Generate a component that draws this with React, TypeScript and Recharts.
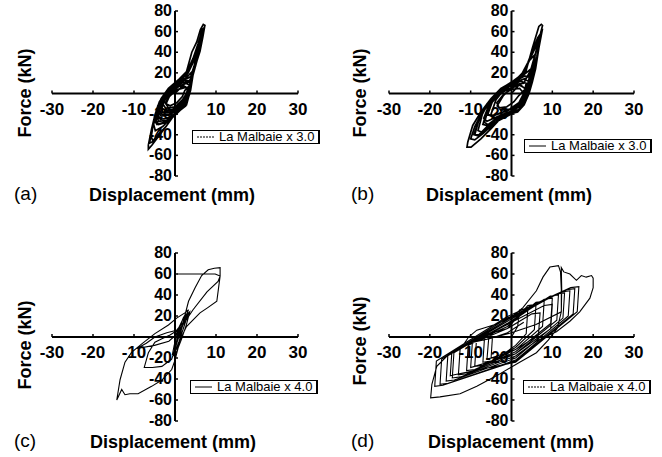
import React from "react";
import { LineChart, Line, XAxis, YAxis, ReferenceLine, Legend } from "recharts";

const xTicks = [-30, -20, -10, 10, 20, 30];
const yTicks = [-80, -60, -40, -20, 20, 40, 60, 80];
const panelLetters = ["(a)", "(b)", "(c)", "(d)"];
const seriesNames = ["La Malbaie x 3.0", "La Malbaie x 3.0", "La Malbaie x 4.0", "La Malbaie x 4.0"];
const xTitle = "Displacement (mm)";
const yTitle = "Force (kN)";

// displacement (mm), force (kN) pairs, one flat list per continuous trace
const loopsA = [
  [
    0, 0, 2, 8, 3.2, 4, 2, 8, 0, 6, -2, -2, -3, -10, -2, -16, 0, -15, 2, -8, 3.2, 4,
    3.8, 12, 2.4, 13, 0, 9, -2.2, 0, -3.4, -8, -3.8, -16, -3.2, -20, -1, -20, 1, -14, 2.8, -6, 3.8, 12,
    4.4, 22, 3.4, 18, 2, 16, 0, 10, -2, 1, -3.6, -9, -4.4, -22, -4, -27, -2, -26, 0, -20, 2, -12, 3.4, -2, 4, 10, 4.4, 22,
    5.2, 36, 4.4, 30, 3.2, 20, 1, 12, -1.6, 3, -3.6, -8, -4.6, -19, -5.2, -30, -4.8, -36, -3, -32, -1, -24,
    1, -17, 2.8, -10, 3.8, 3, 4.4, 18, 5.2, 36,
    6.2, 52, 5.2, 42, 4, 30, 2.8, 21, 0.4, 11, -2, 2, -3.8, -8, -5, -22, -5.8, -42, -5.4, -46, -4, -40,
    -2, -31, -0.4, -22, 1.2, -16, 2.8, -11, 3.7, 2, 4.5, 21, 5.4, 36, 6.2, 52,
    7.3, 66, 6.9, 67, 6.2, 62, 5.3, 50, 4.1, 40, 2.8, 21, 0.4, 11.4, -2, 1.6, -3.7, -8, -4.9, -21, -5.7, -34,
    -6.5, -50, -6.5, -54, -5.6, -50, -4.5, -44, -2, -31, -0.4, -21, 1.2, -15, 2.8, -11, 3.7, 2, 4.5, 21,
    6.1, 41, 6.8, 55, 7.2, 64, 6.6, 62, 6.2, 56, 6.6, 54, 7, 62,
    6.5, 60, 5.6, 48, 4.4, 34, 3, 22, 1, 14, -1.6, 5, -3.4, -5, -4.6, -18, -5.5, -32, -6.2, -48, -5.6, -47,
    -4.2, -40, -2.2, -32, -0.6, -23, 1, -17, 2.6, -12, 3.6, 0, 4.4, 18, 5.8, 38, 6.6, 52, 7, 62,
    5.6, 44, 4.6, 32, 3.4, 22, 1.4, 14, -0.8, 7, -2.8, -2, -4.2, -12, -5, -26, -4.4, -30, -2.6, -28,
    -0.8, -22, 1, -16, 2.6, -9, 3.6, 4, 4.6, 26,
    3.8, 16, 2.6, 14, 0.6, 9, -1.6, 1, -3.2, -8, -4, -18, -3.4, -22, -1.6, -21, 0.4, -16, 2.2, -8, 3.4, 4, 3.8, 12,
    2.8, 10, 1, 7, -1, 1, -2.6, -7, -3.2, -14, -2.2, -17, -0.4, -15, 1.4, -9, 2.8, 0, 3.2, 6,
    2, 6, 0.2, 3, -1.4, -3, -2.2, -10, -1.2, -12, 0.4, -9, 1.8, -3, 2.4, 3,
    3.6, 8, 2.2, 11, 0.2, 8, -1.8, 0, -3.4, -10, -4.2, -20, -3.6, -25, -1.8, -24, 0.2, -19, 2, -12, 3.2, -3, 3.8, 8,
    4, 16, 3, 16, 1.2, 12, -1, 4, -2.8, -5, -3.8, -14, -4.6, -26, -4, -30, -2.2, -28, -0.2, -22, 1.6, -15,
    3, -7, 3.8, 5, 4.2, 16, 3.4, 12, 1.6, 10, -0.4, 5, -2.4, -3, -3.4, -12, -3, -18, -1.2, -18, 0.8, -13,
    2.4, -6, 3.4, 2, 2.6, 6, 0.8, 4, -1, -1, -2.4, -9, -1.6, -14, 0, -13, 1.6, -7, 2.8, -1,
  ],
];

const loopsB = [
  [
    0, 0, 2, 9, 3.5, 4, 2, 9, 0, 6, -2, -2, -3.5, -12, -2.6, -16, 0, -15, 2, -9, 3.5, 4,
    4.2, 12, 3, 14, 0.6, 10, -2, 3, -3.8, -6, -5, -20, -4, -24, -1.6, -20, 0.6, -16, 2.6, -10, 3.6, 0, 4.2, 12,
    4.8, 24, 3.6, 20, 1.6, 14, -1, 7, -3.6, -1, -5.4, -11, -6.6, -28, -5.4, -31, -3, -26, -0.6, -21,
    1.4, -17, 3, -10, 4.1, 0, 4.6, 12, 4.8, 24,
    5.8, 38, 4.4, 32, 3, 20, 0.6, 12, -2.6, 5, -5, -5, -7, -18, -8.2, -36, -7, -38, -4.6, -31, -2.2, -23,
    0, -19, 1.6, -17, 3.2, -10, 4.3, 1, 5, 14, 5.8, 38,
    7.6, 66, 7.3, 67, 6.7, 65, 5.1, 44, 3.5, 21, 0.6, 11, -2.6, 5, -5, -5, -7.5, -18, -9.5, -31, -10.7, -47,
    -10.9, -52, -9.9, -52, -7.5, -44, -5, -34, -2.6, -24, -0.2, -19.5, 1.5, -18, 3.1, -11, 4.3, 0, 5.1, 11,
    5.9, 24, 6.7, 44, 7.6, 63,
    7.1, 58, 6.4, 54, 5.4, 44, 4, 30, 2.4, 18, 0, 11, -2.8, 4, -5.2, -6, -7.4, -20, -9, -32, -10, -44,
    -9, -45, -7, -39, -4.8, -31, -2.4, -23, 0, -19, 2, -15, 3.4, -7, 4.4, 4, 5.2, 16, 6.2, 36, 7.1, 58,
    6, 46, 4.6, 34, 3.2, 22, 1.2, 14, -1.6, 7, -4.4, -3, -6.6, -16, -8.2, -28, -9.2, -40, -8.2, -41,
    -6.2, -34, -4, -26, -1.8, -21, 0.4, -17, 2.4, -11, 3.8, 0, 4.8, 14, 5.4, 28,
    3, 10, 0, 8, -3, 2, -6, -10, -8, -26, -9, -40, -8, -40, -6, -32, -4, -25, -1.6, -20, 1, -15, 3, -6,
    3.8, 4, 2, 8, -1, 4, -4, -4, -6, -16, -7, -30, -6, -31, -4, -25, -2, -21, 0.4, -16, 2.4, -8, 3.2, 2,
    3.6, 10, 2.2, 12, 0, 8, -2.6, 2, -4.6, -7, -5.8, -20, -4.8, -22, -2.6, -19, -0.4, -15, 1.8, -9, 3, 0,
    2, 5, 0, 4, -2, -1, -3.6, -9, -3, -14, -1.2, -13, 0.6, -8, 1.8, -2,
    3.8, 6, 4.4, 16, 3.2, 17, 1, 12, -1.8, 5, -4.2, -4, -5.8, -14, -6.8, -24, -6, -27, -3.8, -23, -1.4, -19,
    0.8, -16, 2.8, -9, 4, 2, 4.6, 18, 3.6, 15, 1.8, 12, -0.8, 6, -3.2, -1, -5, -10, -6, -20, -5, -22,
    -2.8, -19, -0.6, -16, 1.6, -12, 3.2, -4, 4, 8,
  ],
];

const loopsC = [
  [
    0, 0, 0.8, 8, 1.8, 16, 2.6, 22, 2, 18, 0.8, 6, -0.2, -8, -0.6, -16, 0, -14, 1, -4, 2.2, 10, 3.2, 22,
    2.6, 20, 1.4, 8, 0.2, -6, -0.4, -18, 0.4, -14, 1.6, -2, 2.8, 12, 3.6, 24, 3, 22, 1.8, 10, 0.6, -4,
    -0.2, -14, -0.8, -21, -3.2, -28, -5.5, -29, -7.5, -29, -7, -22, -6.5, -15, -4.9, -5, -3.2, -1.6,
    -1.2, 2, 0.4, 6, 1.6, 10, 0.8, 4, -1.5, -4, -5, -8, -9.3, -11, -7, -6, -4.9, 0, -2, 4, 0.4, 6.5,
    2, 14, 3.3, 26, 2.4, 23, 0.4, 18, -1.6, 11.4, -4.9, 3.2, -8.1, -6.5, -10.6, -14.6, -12.2, -24,
    -13.4, -40.7, -14.2, -60, -13, -50, -12.2, -55, -11, -54, -9, -54, -5.7, -47, -3.2, -41, -0.8, -31,
    0, -22, 0.8, -10, 1.7, 10, 3.3, 34, 4.9, 47, 6.5, 58.5, 8.1, 64, 9.6, 65.5, 11, 66, 11, 58, 10.2, 34,
    8, 28, 6.1, 23, 2.8, 10, 1.2, -3, 0.4, -12,
  ],
  [0.5, 0, 1.7, 10, 4.4, 26, 7.8, 43, 10.5, 53, 11, 58, 9.8, 60, 0.6, 60],
];

const loopsD = [
  [
    0, 0, 1.5, 10, 2, 26, 4, 27, 3.6, 3, 1, -8, -3, -19, -5, -20, -4.6, 4, -1, 8,
    4, 30, 6, 31, 5.6, 7, 1, -10, -5, -23, -7, -24, -6.6, 0, -1, 10,
    6, 33, 8, 34, 7.6, 10, 1, -12, -7, -27, -9, -28, -8.6, -4, -1, 12,
    8, 36, 10, 37, 9.6, 13, 1, -14, -9, -31, -11, -32, -10.6, -8, -1, 13,
    9.5, 39, 11.5, 40, 11.1, 16, 1, -16, -11, -35, -13, -36, -12.6, -12, -10.5, 0,
    -8.5, 6.5, -4, 12, -0.4, 18, 2.8, 28, 6.1, 44, 7.7, 57, 9.4, 66.6, 11.5, 68, 12, 62, 12.2, 45, 12.2, 24,
    6, 12, 0, 4, -6, -2, -11, -6.5, -15, -15, -18.3, -28, -19.5, -45, -19.8, -58, -17.5, -57,
    -12.6, -54, -8.5, -47, -3.7, -37, 2, -24, 6.1, -15, 9, -3, 11.2, 8, 12.2, 24, 12.3, 45, 12.2, 66,
    12.8, 62, 14.3, 60, 15.9, 54, 17.1, 58.5, 18.3, 57, 19.6, 58.5, 20, 56, 20, 47, 19.2, 37, 16.7, 24,
    14.3, 15, 11, 5, 6, -4, 1, -18, -12.5, -38,
    -14.5, -39, -14.1, -15, -1, 15, 11, 41, 13, 42, 12.6, 18, 1, -20, -14, -41,
    -16, -42, -15.6, -18, -1, 16.5, 12.3, 43, 14.3, 44, 13.9, 20, 1, -22, -15.5, -44,
    -17.5, -45, -17.1, -21, -1, 18, 13.5, 45, 15.5, 46, 15.1, 22, 1, -23, -16.8, -46,
    -18.8, -47, -18.4, -23, -1, 19.5, 14.5, 47, 16.5, 48, 16.1, 24, 1, -24, -14, -36,
    -15, -37, -14.6, -14, -1, 12, 8, 30, 10, 31, 9.6, 8, 1, -16, -9, -28,
    -10, -29, -9.6, -6, -1, 8, 5, 22, 7, 23, 6.6, 2, 1, -12, -5, -20, -6, -21, -5.6, -2, -1, 4, 3, 14,
  ],
];

type Pt = { x: number | null; y: number | null };

function toPoints(strands: number[][]): Pt[] {
  const pts: Pt[] = [];
  strands.forEach((s, i) => {
    if (i > 0) pts.push({ x: null, y: null });
    for (let k = 0; k < s.length; k += 2) pts.push({ x: s[k], y: s[k + 1] });
  });
  return pts;
}

const W = 331;
const H = 229;
const FONT = "'Liberation Sans', Arial, sans-serif";

type PanelCfg = {
  left: number;
  top: number;
  margin: { top: number; left: number; right: number; bottom: number };
  legendPos: { left: number; top: number };
  forcePos: { x: number; y: number };
  dispLeft: number;
  letterLeft: number;
  baseline: number;
  dashed: boolean;
  stroke: number;
};

// plot box per panel: x -30..30 and y -80..80
const panels: PanelCfg[] = [
  { left: 0, top: 0, margin: { top: 11, left: 52, right: 33, bottom: 53 }, legendPos: { left: 192, top: 130 }, forcePos: { x: 25, y: 93 }, dispLeft: 89, letterLeft: 14, baseline: 200, dashed: true, stroke: 1.7 },
  { left: 331, top: 0, margin: { top: 11, left: 58, right: 28, bottom: 53 }, legendPos: { left: 193, top: 139 }, forcePos: { x: 29, y: 93 }, dispLeft: 95, letterLeft: 20, baseline: 200, dashed: false, stroke: 1.7 },
  { left: 0, top: 228, margin: { top: 25, left: 52, right: 33, bottom: 36 }, legendPos: { left: 190, top: 152 }, forcePos: { x: 25, y: 117 }, dispLeft: 90, letterLeft: 14, baseline: 219, dashed: false, stroke: 1.1 },
  { left: 331, top: 228, margin: { top: 25, left: 58, right: 28, bottom: 36 }, legendPos: { left: 192, top: 152 }, forcePos: { x: 29, y: 113 }, dispLeft: 97, letterLeft: 20, baseline: 219, dashed: true, stroke: 1.1 },
];

const panelData = [loopsA, loopsB, loopsC, loopsD].map(toPoints);

function LegendBox(props: any) {
  const { payload, dashed } = props;
  const item = payload && payload[0];
  return (
    <div
      style={{
        width: 128,
        height: 14,
        border: "1.5px solid #000",
        borderRightWidth: 2.5,
        boxSizing: "border-box",
        background: "#fff",
        display: "flex",
        alignItems: "center",
        overflow: "hidden",
        whiteSpace: "nowrap",
        fontFamily: FONT,
        fontSize: 13,
        lineHeight: "12px",
        color: "#000",
      }}
    >
      <svg width={26} height={10} style={{ flex: "none" }}>
        <line x1={4} x2={21} y1={5} y2={5} stroke="#000" strokeWidth={1} strokeDasharray={dashed ? "2 1" : undefined} />
      </svg>
      <span>{item ? item.value : ""}</span>
    </div>
  );
}

function Panel({ cfg, data, letter, name }: { cfg: PanelCfg; data: Pt[]; letter: string; name: string }) {
  const m = cfg.margin;
  const plotW = W - m.left - m.right;
  const plotH = H - m.top - m.bottom;
  const x0 = m.left + plotW / 2;
  const y0 = m.top + plotH / 2;
  // the axes take 1px each; keep the plot box where the margins say
  const chartMargin = { top: m.top, right: m.right, left: m.left - 1, bottom: m.bottom - 1 };

  const XTick = (p: any) => (
    <g>
      <line x1={p.x} x2={p.x} y1={y0} y2={y0 - 3} stroke="#000" strokeWidth={1.5} />
      <text x={p.x} y={y0 + 21} textAnchor="middle" fontFamily={FONT} fontWeight={700} fontSize={17} fill="#000">
        {p.payload.value}
      </text>
    </g>
  );
  const YTick = (p: any) => (
    <g>
      <line x1={x0} x2={x0 + 3} y1={p.y} y2={p.y} stroke="#000" strokeWidth={1.5} />
      <text x={x0 - 3} y={p.y + 5} textAnchor="end" fontFamily={FONT} fontWeight={700} fontSize={16} fill="#000">
        {p.payload.value}
      </text>
    </g>
  );

  return (
    <div style={{ position: "absolute", left: cfg.left, top: cfg.top, width: W, height: H }}>
      <LineChart width={W} height={H} data={data} margin={chartMargin}>
        <XAxis
          type="number"
          dataKey="x"
          domain={[-30, 30]}
          ticks={xTicks}
          allowDataOverflow
          height={1}
          axisLine={false}
          tickLine={false}
          tick={XTick}
          interval={0}
        />
        <YAxis
          type="number"
          domain={[-80, 80]}
          ticks={yTicks}
          allowDataOverflow
          width={1}
          axisLine={false}
          tickLine={false}
          tick={YTick}
          interval={0}
        />
        <ReferenceLine y={0} stroke="#000" strokeWidth={2} />
        <ReferenceLine x={0} stroke="#000" strokeWidth={2} />
        <Line
          type="linear"
          dataKey="y"
          name={name}
          stroke="#000"
          strokeWidth={cfg.stroke}
          dot={false}
          activeDot={false}
          isAnimationActive={false}
        />
        <Legend
          layout="vertical"
          align="center"
          verticalAlign="middle"
          wrapperStyle={{ left: cfg.legendPos.left, top: cfg.legendPos.top, width: 128, height: 14 }}
          content={(p: any) => <LegendBox {...p} dashed={cfg.dashed} />}
        />
      </LineChart>
      <div
        style={{
          position: "absolute",
          left: cfg.forcePos.x,
          top: cfg.forcePos.y,
          transform: "translate(-50%, -50%) rotate(-90deg)",
          whiteSpace: "nowrap",
          fontFamily: FONT,
          fontWeight: 700,
          fontSize: 18,
          lineHeight: "18px",
        }}
      >
        {yTitle}
      </div>
      <div
        style={{
          position: "absolute",
          left: cfg.letterLeft,
          top: cfg.baseline - 16,
          fontFamily: FONT,
          fontSize: 19,
          lineHeight: "20px",
          whiteSpace: "nowrap",
        }}
      >
        {letter}
      </div>
      <div
        style={{
          position: "absolute",
          left: cfg.dispLeft,
          top: cfg.baseline - 14,
          fontFamily: FONT,
          fontWeight: 700,
          fontSize: 18,
          lineHeight: "18px",
          whiteSpace: "nowrap",
        }}
      >
        {xTitle}
      </div>
    </div>
  );
}

export default function App() {
  return (
    <div style={{ position: "absolute", left: 0, top: 0, width: 662, height: 457, background: "#fff", overflow: "hidden" }}>
      {panels.map((cfg, i) => (
        <Panel key={i} cfg={cfg} data={panelData[i]} letter={panelLetters[i]} name={seriesNames[i]} />
      ))}
    </div>
  );
}
